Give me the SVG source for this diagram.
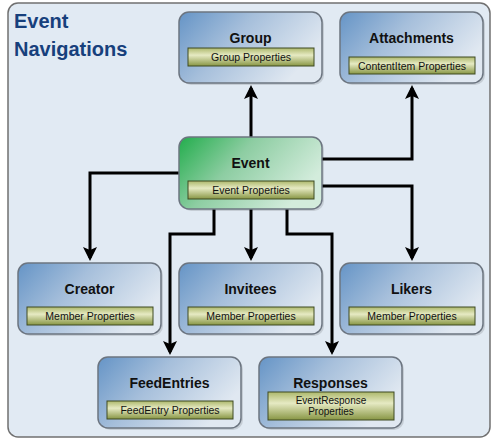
<svg xmlns="http://www.w3.org/2000/svg" width="497" height="443" viewBox="0 0 497 443">
<style>
.node{stroke:#6c7580;stroke-width:1.5;fill:url(#blue)}
.ev{fill:url(#green)}
.shadow{fill:#000;opacity:0.12}
.bar{fill:url(#olive);stroke:#3e4a22;stroke-width:1}
.title{font-family:"Liberation Sans",Arial,sans-serif;font-weight:bold;font-size:14px;fill:#111;text-anchor:middle}
.prop{font-family:"Liberation Sans",Arial,sans-serif;font-size:10.5px;fill:#111;text-anchor:middle}
.prop2{font-family:"Liberation Sans",Arial,sans-serif;font-size:10px;fill:#111;text-anchor:middle}
.conn{fill:none;stroke:#000;stroke-width:3;stroke-linejoin:miter}
.head{font-family:"Liberation Sans",Arial,sans-serif;font-weight:bold;font-size:20px;fill:#17407c}
</style>
<defs>
<linearGradient id="blue" x1="0" y1="0" x2="1" y2="0.45">
<stop offset="0" stop-color="#6594c6"/>
<stop offset="0.45" stop-color="#a6bfdb"/>
<stop offset="1" stop-color="#e0e8f1"/>
</linearGradient>
<linearGradient id="green" x1="0" y1="0" x2="1" y2="0.45">
<stop offset="0" stop-color="#22ad4c"/>
<stop offset="0.45" stop-color="#8dcda2"/>
<stop offset="1" stop-color="#d3ecdc"/>
</linearGradient>
<linearGradient id="olive" x1="0" y1="0" x2="0" y2="1">
<stop offset="0" stop-color="#adb86c"/>
<stop offset="0.4" stop-color="#e6eac3"/>
<stop offset="1" stop-color="#889644"/>
</linearGradient>
<marker id="arr" viewBox="0 0 14 14" refX="11" refY="7" markerWidth="14" markerHeight="14" markerUnits="userSpaceOnUse" orient="auto">
<path d="M0,0 L14,7 L0,14 L3,7 Z" fill="#000"/>
</marker>
</defs>
<rect x="8" y="3" width="482" height="434" rx="10" fill="#e1eaf3" stroke="#707070" stroke-width="1.5"/>
<text class="head" x="14" y="28">Event</text>
<text class="head" x="14" y="56">Navigations</text>

<g id="connectors">
<path class="conn" d="M251,137 V88" marker-end="url(#arr)"/>
<path class="conn" d="M322,159 H412 V88" marker-end="url(#arr)"/>
<path class="conn" d="M179,173 H90 V258" marker-end="url(#arr)"/>
<path class="conn" d="M322,186 H412 V258" marker-end="url(#arr)"/>
<path class="conn" d="M251,209 V258" marker-end="url(#arr)"/>
<path class="conn" d="M214,209 V234 H170 V352" marker-end="url(#arr)"/>
<path class="conn" d="M287,209 V234 H332 V352" marker-end="url(#arr)"/>
</g>

<g id="group">
<rect class="shadow" x="181" y="14" width="143" height="71" rx="10"/>
<rect class="node" x="179" y="12" width="143" height="71" rx="10"/>
<text class="title" x="250.5" y="43">Group</text>
<rect class="bar" x="188" y="48" width="126" height="18"/>
<text class="prop" x="251" y="60.5">Group Properties</text>
</g>

<g id="attachments">
<rect class="shadow" x="342" y="14" width="143" height="71" rx="10"/>
<rect class="node" x="340" y="12" width="143" height="71" rx="10"/>
<text class="title" x="411.5" y="43">Attachments</text>
<rect class="bar" x="349" y="57" width="126" height="17"/>
<text class="prop" x="412" y="69.5">ContentItem Properties</text>
</g>

<g id="event">
<rect class="shadow" x="181" y="139" width="143" height="72" rx="10"/>
<rect class="node ev" x="179" y="137" width="143" height="72" rx="10"/>
<text class="title" x="250.5" y="168">Event</text>
<rect class="bar" x="188" y="181" width="126" height="18"/>
<text class="prop" x="251" y="193.5">Event Properties</text>
</g>

<g id="creator">
<rect class="shadow" x="20" y="265" width="143" height="71" rx="10"/>
<rect class="node" x="18" y="263" width="143" height="71" rx="10"/>
<text class="title" x="89.5" y="294">Creator</text>
<rect class="bar" x="27" y="307" width="126" height="18"/>
<text class="prop" x="90" y="319.5">Member Properties</text>
</g>

<g id="invitees">
<rect class="shadow" x="181" y="265" width="143" height="71" rx="10"/>
<rect class="node" x="179" y="263" width="143" height="71" rx="10"/>
<text class="title" x="250.5" y="294">Invitees</text>
<rect class="bar" x="188" y="307" width="126" height="18"/>
<text class="prop" x="251" y="319.5">Member Properties</text>
</g>

<g id="likers">
<rect class="shadow" x="342" y="265" width="143" height="71" rx="10"/>
<rect class="node" x="340" y="263" width="143" height="71" rx="10"/>
<text class="title" x="411.5" y="294">Likers</text>
<rect class="bar" x="349" y="307" width="126" height="18"/>
<text class="prop" x="412" y="319.5">Member Properties</text>
</g>

<g id="feedentries">
<rect class="shadow" x="100" y="359" width="143" height="71" rx="10"/>
<rect class="node" x="98" y="357" width="143" height="71" rx="10"/>
<text class="title" x="169.5" y="388">FeedEntries</text>
<rect class="bar" x="107" y="401" width="126" height="18"/>
<text class="prop" x="170" y="413.5">FeedEntry Properties</text>
</g>

<g id="responses">
<rect class="shadow" x="261" y="359" width="143" height="71" rx="10"/>
<rect class="node" x="259" y="357" width="143" height="71" rx="10"/>
<text class="title" x="330.5" y="388">Responses</text>
<rect class="bar" x="268" y="392" width="126" height="28"/>
<text class="prop2" x="331" y="403.5">EventResponse</text>
<text class="prop2" x="331" y="415">Properties</text>
</g>
</svg>
